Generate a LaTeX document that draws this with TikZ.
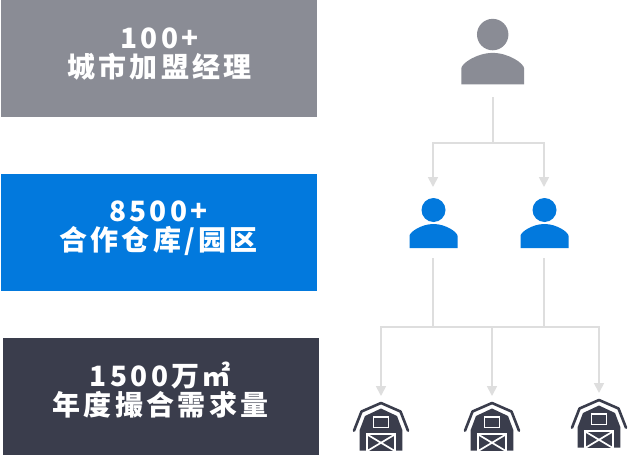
\documentclass[tikz,border=0pt]{standalone}
\usepackage{fontspec}
\newfontfamily\cjk[LetterSpace=12]{Noto Sans CJK SC}
\usetikzlibrary{arrows.meta}
\definecolor{greyc}{HTML}{8A8C95}
\definecolor{bluec}{HTML}{0279DD}
\definecolor{darkc}{HTML}{3A3D4C}
\definecolor{linec}{HTML}{DEDEDE}
\tikzset{
  panel/.style={minimum width=316pt,minimum height=117pt,inner sep=0pt,outer sep=0pt},
  caption/.style={inner sep=0pt,outer sep=0pt,text=white,align=center,
     font=\cjk\bfseries\fontsize{28pt}{29pt}\selectfont},
  slot/.style={minimum width=#1,inner sep=0pt,outer sep=0pt},
  link/.style={draw=linec,line width=1.7pt},
  tiplink/.style={link,-{Triangle[length=10pt,width=10pt,fill=linec]}},
  person/.pic={
    \fill[pic actions] (0,-24) circle (12);
    \fill[pic actions] (-24,14) -- (-24,2) .. controls (-24,-2) and (-12,-10) .. (0,-10)
       .. controls (12,-10) and (24,-2) .. (24,2) -- (24,14) -- cycle;
  },
  barn/.pic={
    \draw[darkc,line width=2.6pt,line join=round,line cap=round]
      (-27,3.7) -- (-19.5,-15.5) -- (0,-24) -- (19.5,-15.5) -- (27,3.7);
    \fill[darkc] (-21.3,23.5) -- (-21.3,3) -- (-16,-11) -- (0,-18.5) -- (16,-11) -- (21.3,3) -- (21.3,23.5) -- cycle;
    \draw[white,line width=1.5pt] (-7.5,-10) rectangle (7.5,0.3);
    \fill[white] (-15.3,5.5) rectangle (15.3,23.5);
    \fill[darkc] (-13,8) rectangle (13,23.5);
    \draw[white,line width=1.7pt] (-13,8) -- (13,23.5) (13,8) -- (-13,23.5);
  }
}
\begin{document}
\begin{tikzpicture}[x=1pt,y=-1pt]
\useasboundingbox (0,0) rectangle (630,458);
\fill[white] (0,0) rectangle (630,458);
\node[panel,fill=greyc] (p1) at (159,58.5) {};
\node[panel,fill=bluec] (p2) at (158.5,232.5) {};
\node[panel,fill=darkc] (p3) at (161,396.5) {};
\node[caption] (t1) at (159.5,54) {100+\\城市加盟经理};
\node[caption] (t2) at (158.5,228.5) {8500+\\合作仓库/园区};
\node[caption] (t3) at (160.5,390) {1500万㎡\\年度撮合需求量};
% icon slots
\node[slot=63pt,minimum height=79pt] (mgr) at (493,57.5) {};
\node[slot=48pt,minimum height=71pt] (c1) at (433,222.5) {};
\node[slot=48pt,minimum height=71pt] (c2) at (544,222.5) {};
\node[slot=54pt,minimum height=55pt] (b1) at (381,423.5) {};
\node[slot=54pt,minimum height=55pt] (b2) at (492,423.5) {};
\node[slot=54pt,minimum height=55pt] (b3) at (599,420.5) {};
\pic[fill=greyc,scale=1.31] at (492.7,66) {person};
\pic[fill=bluec] at (433.5,234) {person};
\pic[fill=bluec] at (544.5,234) {person};
\pic at (381,427) {barn};
\pic at (492,427) {barn};
\pic at (599,424) {barn};
% connectors
\coordinate (j0) at (mgr.south |- 0,143);
\coordinate (j1) at (c1.south |- 0,327);
\coordinate (j2) at (c2.south |- 0,327);
\coordinate (j3) at (b2.north |- 0,327);
\draw[link] (mgr.south) -- (j0);
\draw[tiplink] (j0) -| (c1.north);
\draw[tiplink] (j0) -| (c2.north);
\draw[link] (c1.south) -- (j1);
\draw[link] (c2.south) -- (j2);
\draw[tiplink] (j1) -| (b1.north);
\draw[tiplink] (j3) -- (b2.north);
\draw[tiplink] (j2) -| (b3.north);
\draw[link] (j1) -- (j2);
\end{tikzpicture}
\end{document}
